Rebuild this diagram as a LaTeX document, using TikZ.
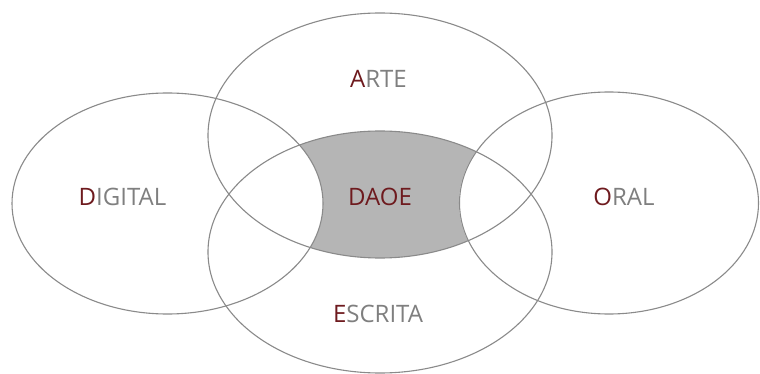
\documentclass[tikz,border=0pt]{standalone}
\usepackage{fontspec}
\setmainfont{Open Sans}
\definecolor{initred}{HTML}{6E1A1E}
\definecolor{txtgray}{HTML}{7F7F7F}
\definecolor{linegray}{HTML}{8A8A8A}
\definecolor{fillgray}{HTML}{B5B5B5}
\tikzset{
  ring/.style={draw=linegray, line width=1.1pt},
  label/.style={font=\fontsize{24}{28}\selectfont, text=txtgray, inner sep=0pt, anchor=center},
}
\newcommand{\ini}[1]{\textcolor{initred}{#1}}
\begin{document}
\begin{tikzpicture}[x=1pt,y=-1pt]
\useasboundingbox (0,0) rectangle (760,374);
\fill[white] (0,0) rectangle (760,374);
% shaded centre
\begin{scope}
  \clip (380,135.5) ellipse [x radius=172, y radius=122.5];
  \clip (380,252) ellipse [x radius=172, y radius=121];
  \fill[fillgray] (0,0) rectangle (760,374);
  \fill[white] (167.5,203.5) ellipse [x radius=155.5, y radius=110.5];
  \fill[white] (609,203) ellipse [x radius=150, y radius=111];
\end{scope}
% outlines
\draw[ring] (167.5,203.5) ellipse [x radius=155.5, y radius=110.5];
\draw[ring] (380,135.5) ellipse [x radius=172, y radius=122.5];
\draw[ring] (609,203) ellipse [x radius=149.5, y radius=111];
\draw[ring] (380,252) ellipse [x radius=172, y radius=121];
% labels
\node[label] (digital) at (122.5,197) {\ini{D}IGITAL};
\node[label] (arte) at (378.5,79) {\ini{A}RTE};
\node[label] (daoe) at (380,197) {\textcolor{initred}{DAOE}};
\node[label] (oral) at (624,197) {\ini{O}RAL};
\node[label] (escrita) at (378,313.5) {\ini{E}SCRITA};
\end{tikzpicture}
\end{document}
